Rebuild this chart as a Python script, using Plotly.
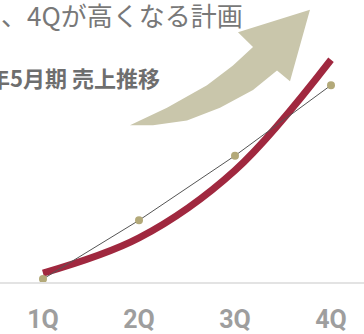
import plotly.graph_objects as go

# ---- data ----
quarters = ["1Q", "2Q", "3Q", "4Q"]
x_pos = [1, 2, 3, 4]
plan_values = [3, 63, 129, 201]        # thin line with dots
trend_values = [9, 45, 114, 227]       # thick red curve

title_text = "、4Qが高くなる計画"
subtitle_text = "年5月期 売上推移"

W, H = 364, 334
MB = 46
PH = H - MB  # plot height in px


def px2paper(px, py):
    return px / W, (PH - py) / PH


def path_from(points):
    parts = []
    for i, (px, py) in enumerate(points):
        X, Y = px2paper(px, py)
        parts.append(("M" if i == 0 else "L") + f" {X:.4f},{Y:.4f}")
    return " ".join(parts) + " Z"


# decorative arrow outline (pixel positions)
arrow_pts = [
    (130, 128), (153, 128), (187, 123), (220, 110), (253, 92), (277, 72),
    (290, 83), (310, 10), (238, 33), (253, 48),
    (233, 67), (207, 87), (167, 110), (140, 123),
]

fig = go.Figure()

fig.add_trace(go.Scatter(
    x=x_pos, y=trend_values, mode="lines",
    line=dict(color="#a0283f", width=7, shape="spline", smoothing=1.0),
    cliponaxis=False, hoverinfo="skip",
))
fig.add_trace(go.Scatter(
    x=x_pos, y=plan_values, mode="lines+markers",
    line=dict(color="#555555", width=1),
    marker=dict(color="#b3a979", size=8),
    cliponaxis=False, hoverinfo="skip",
))

fig.add_shape(type="path", xref="paper", yref="paper",
              path=path_from(arrow_pts),
              fillcolor="#c9c6ab", line=dict(width=0), layer="below")

fig.add_annotation(
    text=title_text, xref="paper", yref="paper",
    x=0, xshift=-1, y=(PH - 15) / PH, xanchor="left", yanchor="middle",
    showarrow=False,
    font=dict(family="Noto Sans CJK JP", size=26, color="#787878"),
)
fig.add_annotation(
    text="<b>" + subtitle_text + "</b>", xref="paper", yref="paper",
    x=0, xshift=-14, y=(PH - 79) / PH, xanchor="left", yanchor="middle",
    showarrow=False,
    font=dict(family="Noto Sans CJK JP", size=22, color="#6e6e6e"),
)

fig.update_layout(
    width=W, height=H,
    margin=dict(l=0, r=0, t=0, b=MB),
    paper_bgcolor="white", plot_bgcolor="white",
    showlegend=False,
    xaxis=dict(
        range=[1 - 43 / 96, 4 + 33 / 96],
        tickvals=x_pos, ticktext=quarters,
        showgrid=False, zeroline=False,
        showline=True, linecolor="#e3e3e3", linewidth=2,
        ticks="outside", ticklen=14, tickcolor="rgba(0,0,0,0)",
        tickfont=dict(family="Roboto", size=25, color="#9e9e9e", weight="bold"),
        fixedrange=True,
    ),
    yaxis=dict(
        range=[0, PH], visible=False, fixedrange=True,
    ),
)

fig.write_html(
    "out.html",
    config={"displayModeBar": False},
    post_script="document.body.style.margin='0';document.body.style.overflow='hidden';",
)
